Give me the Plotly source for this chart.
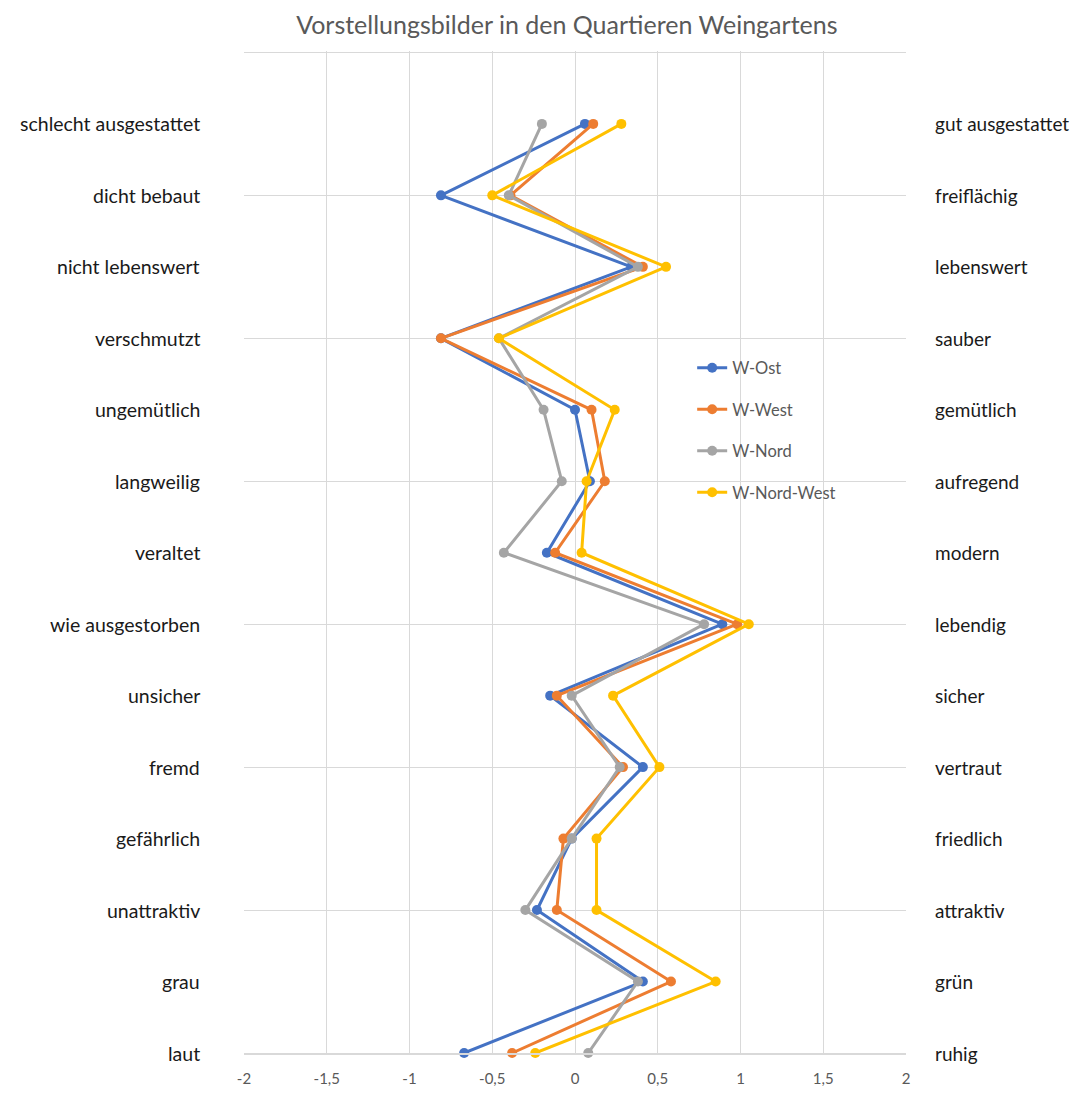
import plotly.graph_objects as go

# Gegensatzpaare (von unten nach oben, y = 0..13)
links = ['laut', 'grau', 'unattraktiv', 'gefährlich', 'fremd', 'unsicher',
         'wie ausgestorben', 'veraltet', 'langweilig', 'ungemütlich',
         'verschmutzt', 'nicht lebenswert', 'dicht bebaut', 'schlecht ausgestattet']
rechts = ['ruhig', 'grün', 'attraktiv', 'friedlich', 'vertraut', 'sicher',
          'lebendig', 'modern', 'aufregend', 'gemütlich',
          'sauber', 'lebenswert', 'freiflächig', 'gut ausgestattet']

w_ost = [-0.67, 0.41, -0.23, -0.02, 0.41, -0.15, 0.89, -0.17, 0.09, 0.0, -0.81, 0.34, -0.81, 0.06]
w_west = [-0.38, 0.58, -0.11, -0.07, 0.29, -0.11, 0.98, -0.12, 0.18, 0.10, -0.81, 0.41, -0.39, 0.11]
w_nord = [0.08, 0.38, -0.30, -0.02, 0.27, -0.02, 0.78, -0.43, -0.08, -0.19, -0.46, 0.38, -0.40, -0.20]
w_nord_west = [-0.24, 0.85, 0.13, 0.13, 0.51, 0.23, 1.05, 0.04, 0.07, 0.24, -0.46, 0.55, -0.50, 0.28]

serien = [('W-Ost', w_ost, '#4472C4'),
          ('W-West', w_west, '#ED7D31'),
          ('W-Nord', w_nord, '#A5A5A5'),
          ('W-Nord-West', w_nord_west, '#FFC000')]

x_ticks = [-2, -1.5, -1, -0.5, 0, 0.5, 1, 1.5, 2]
x_text = ['-2', '-1,5', '-1', '-0,5', '0', '0,5', '1', '1,5', '2']
pos = list(range(len(links)))
schrift = 'Lato'

fig = go.Figure()
for i, (name, werte, farbe) in enumerate(serien):
    fig.add_trace(go.Scatter(
        x=werte, y=pos, name=name, mode='lines+markers',
        line=dict(color=farbe, width=3),
        marker=dict(color=farbe, size=10),
        legendgroup=str(i), cliponaxis=False
    ))

# Beschriftung der Gegensatzpaare links und rechts
for p, l, r in zip(pos, links, rechts):
    fig.add_annotation(x=0, xref='paper', y=p, yref='y', text=l,
                       xanchor='right', xshift=-42, showarrow=False,
                       font=dict(family=schrift, size=19.5, color='#1a1a1a'))
    fig.add_annotation(x=1, xref='paper', y=p, yref='y', text=r,
                       xanchor='left', xshift=27, showarrow=False,
                       font=dict(family=schrift, size=19, color='#1a1a1a'))

fig.update_layout(
    width=1083, height=1093,
    paper_bgcolor='white', plot_bgcolor='white',
    margin=dict(l=236, r=185, t=43, b=48),
    title=dict(text='Vorstellungsbilder in den Quartieren Weingartens',
               x=0.516, xanchor='center', y=0.984, yanchor='middle',
               font=dict(family=schrift, size=25, color='#595959')),
    font=dict(family=schrift, color='#595959'),
    legend=dict(x=0.677, y=0.701, xanchor='left', yanchor='top',
                traceorder='grouped', tracegroupgap=17,
                bgcolor='rgba(0,0,0,0)',
                font=dict(family=schrift, size=16.5, color='#595959')),
    xaxis=dict(range=[-2, 2], tickvals=x_ticks, ticktext=x_text, showgrid=True,
               gridcolor='#d9d9d9', gridwidth=1, zeroline=False,
               showline=True, linecolor='#d9d9d9', linewidth=1.5, ticks='',
               ticklabelstandoff=11, automargin=False,
               tickfont=dict(size=15, color='#595959')),
    yaxis=dict(range=[0, 14.02], dtick=2, tick0=0, showgrid=True,
               gridcolor='#d9d9d9', gridwidth=1, zeroline=False,
               showticklabels=False, ticks='', automargin=False),
)

fig.write_html("out.html")
